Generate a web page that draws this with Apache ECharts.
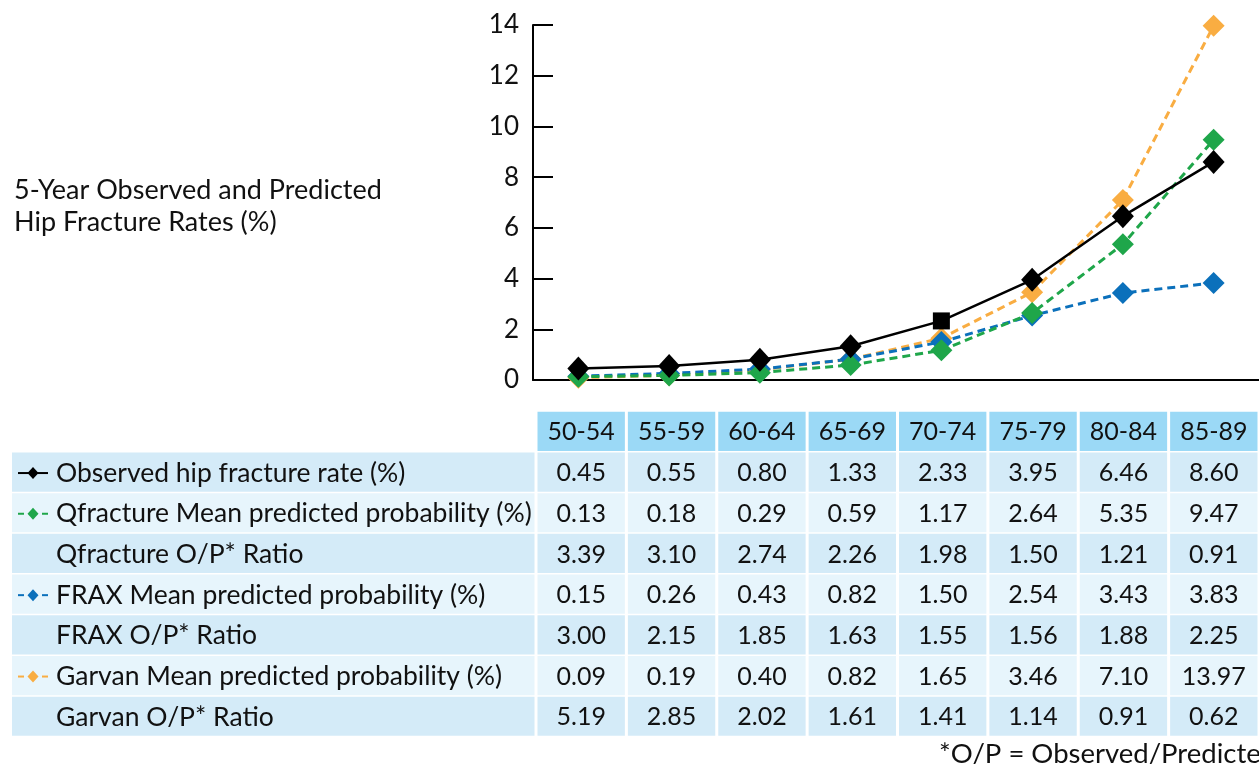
<!DOCTYPE html>
<html><head><meta charset="utf-8">
<script src="https://cdn.jsdelivr.net/npm/echarts@6/dist/echarts.min.js"></script>
<style>html,body{margin:0;padding:0;background:#fff}#c{width:1259px;height:773px}</style>
</head><body><div id="c"></div>
<script>
// ---- data ----
const categories = ['50-54','55-59','60-64','65-69','70-74','75-79','80-84','85-89'];
const observed = [0.45, 0.55, 0.80, 1.33, 2.33, 3.95, 6.46, 8.60];
const qfracture = [0.13, 0.18, 0.29, 0.59, 1.17, 2.64, 5.35, 9.47];
const qfractureRatio = [3.39, 3.10, 2.74, 2.26, 1.98, 1.50, 1.21, 0.91];
const frax = [0.15, 0.26, 0.43, 0.82, 1.50, 2.54, 3.43, 3.83];
const fraxRatio = [3.00, 2.15, 1.85, 1.63, 1.55, 1.56, 1.88, 2.25];
const garvan = [0.09, 0.19, 0.40, 0.82, 1.65, 3.46, 7.10, 13.97];
const garvanRatio = [5.19, 2.85, 2.02, 1.61, 1.41, 1.14, 0.91, 0.62];
const rowLabels = [
  'Observed hip fracture rate (%)',
  'Qfracture Mean predicted probability (%)',
  'Qfracture O/P* Ratio',
  'FRAX Mean predicted probability (%)',
  'FRAX O/P* Ratio',
  'Garvan Mean predicted probability (%)',
  'Garvan O/P* Ratio'
];
const yTicks = [0, 2, 4, 6, 8, 10, 12, 14];
const axisTitle = ['5-Year Observed and Predicted', 'Hip Fracture Rates (%)'];
const footnote = '*O/P = Observed/Predicted';

// ---- styles ----
const BLACK = '#000000', GREEN = '#1fa64a', BLUE = '#0b70bb', ORANGE = '#f9ad42';
const HEADER = '#9bd9f6', ROW_A = '#d4ebf8', ROW_B = '#e7f5fc';
const FONT = 'Lato, "Open Sans", sans-serif';
const rowValues = [observed, qfracture, qfractureRatio, frax, fraxRatio, garvan, garvanRatio];
const rowMarker = [
  {color: BLACK, dashed: false}, {color: GREEN, dashed: true}, null,
  {color: BLUE, dashed: true}, null, {color: ORANGE, dashed: true}, null
];

const chart = echarts.init(document.getElementById('c'), null, {renderer: 'canvas'});

const cellData = [];
categories.forEach((c, ci) => {
  for (let r = 0; r <= rowValues.length; r++) cellData.push([ci, r]);
});
const labelData = rowLabels.map((l, i) => [0, i + 1]);
const tableRows = ['header'].concat(rowLabels);

function cellItem(params, api) {
  const c = api.value(0), r = api.value(1);
  const p = api.coord([c, r]);
  const s = api.size([1, 1]);
  const fill = r === 0 ? HEADER : (r % 2 === 1 ? ROW_A : ROW_B);
  const text = r === 0 ? categories[c] : rowValues[r - 1][c].toFixed(2);
  return {
    type: 'group',
    children: [
      {type: 'rect', shape: {x: p[0] - s[0] / 2 + 1.5, y: p[1] - s[1] / 2 + 0.75, width: s[0] - 3, height: s[1] - 1.5}, style: {fill}},
      {type: 'text', x: p[0], y: p[1] + 1, style: {text, fill: '#111', font: '25px ' + FONT, align: 'center', verticalAlign: 'middle'}}
    ]
  };
}

function labelItem(params, api) {
  const r = api.value(1);
  const p = api.coord([0, r]);
  const s = api.size([1, 1]);
  const right = p[0] - s[0] / 2 - 1.5;
  const left = 12;
  const fill = r % 2 === 1 ? ROW_A : ROW_B;
  const children = [
    {type: 'rect', shape: {x: left, y: p[1] - s[1] / 2 + 0.75, width: right - left, height: s[1] - 1.5}, style: {fill}},
    {type: 'text', x: 56, y: p[1] + 1, style: {text: rowLabels[r - 1], fill: '#111', font: '26.5px ' + FONT, align: 'left', verticalAlign: 'middle'}}
  ];
  const m = rowMarker[r - 1];
  if (m) {
    const cx = 33, cy = p[1] + 1;
    if (m.dashed) {
      children.push({type: 'line', shape: {x1: 18, y1: cy, x2: 24, y2: cy}, style: {stroke: m.color, lineWidth: 2}});
      children.push({type: 'line', shape: {x1: 42, y1: cy, x2: 48, y2: cy}, style: {stroke: m.color, lineWidth: 2}});
    } else {
      children.push({type: 'line', shape: {x1: 18, y1: cy, x2: 48, y2: cy}, style: {stroke: m.color, lineWidth: 2}});
    }
    children.push({type: 'polygon', shape: {points: [[cx, cy - 6], [cx + 5.5, cy], [cx, cy + 6], [cx - 5.5, cy]]}, style: {fill: m.color}});
  }
  return {type: 'group', children};
}

const dashStyle = (color) => ({
  type: 'line', xAxisIndex: 0, yAxisIndex: 0,
  symbol: 'diamond', symbolSize: 22,
  lineStyle: {color, width: 3, type: [8, 5]},
  itemStyle: {color}
});

const option = {
  animation: false,
  backgroundColor: '#fff',
  textStyle: {fontFamily: FONT},
  grid: [
    {left: 533, top: 25, width: 732, height: 355},
    {left: 536, top: 411, width: 731, height: 325.6}
  ],
  xAxis: [
    {
      type: 'category', gridIndex: 0, data: categories, boundaryGap: true,
      axisLine: {lineStyle: {color: BLACK, width: 2}},
      axisTick: {inside: true, length: 10, lineStyle: {color: BLACK, width: 2}},
      axisLabel: {show: false}
    },
    {type: 'category', gridIndex: 1, data: categories, boundaryGap: true, show: false}
  ],
  yAxis: [
    {
      type: 'value', gridIndex: 0, min: 0, max: 14, interval: 2,
      axisLine: {show: true, lineStyle: {color: BLACK, width: 2}},
      axisTick: {show: true, inside: true, length: 20, lineStyle: {color: BLACK, width: 2}},
      splitLine: {show: false},
      axisLabel: {color: '#111', fontSize: 26, fontFamily: FONT, margin: 14,
        formatter: v => yTicks.includes(v) ? String(v) : ''}
    },
    {type: 'category', gridIndex: 1, data: tableRows, inverse: true, show: false}
  ],
  graphic: [
    {type: 'text', left: 14, top: 174, style: {text: axisTitle.join('\n'), fill: '#111', font: '27px ' + FONT, lineHeight: 32}},
    {type: 'text', left: 939, top: 740, style: {text: footnote, fill: '#111', font: '27.5px ' + FONT}}
  ],
  series: [
    Object.assign(dashStyle(ORANGE), {name: 'Garvan', data: garvan}),
    Object.assign(dashStyle(BLUE), {name: 'FRAX', data: frax}),
    Object.assign(dashStyle(GREEN), {name: 'Qfracture', data: qfracture}),
    {
      name: 'Observed', type: 'line', xAxisIndex: 0, yAxisIndex: 0,
      symbol: 'diamond', symbolSize: [22, 24],
      lineStyle: {color: BLACK, width: 2.5},
      itemStyle: {color: BLACK},
      data: observed.map((v, i) => i === 4 ? {value: v, symbol: 'rect', symbolSize: 17} : v)
    },
    {type: 'custom', xAxisIndex: 1, yAxisIndex: 1, clip: false, data: cellData, renderItem: cellItem, encode: {x: 0, y: 1}},
    {type: 'custom', xAxisIndex: 1, yAxisIndex: 1, clip: false, data: labelData, renderItem: labelItem, encode: {x: 0, y: 1}}
  ]
};
chart.setOption(option);
</script></body></html>
